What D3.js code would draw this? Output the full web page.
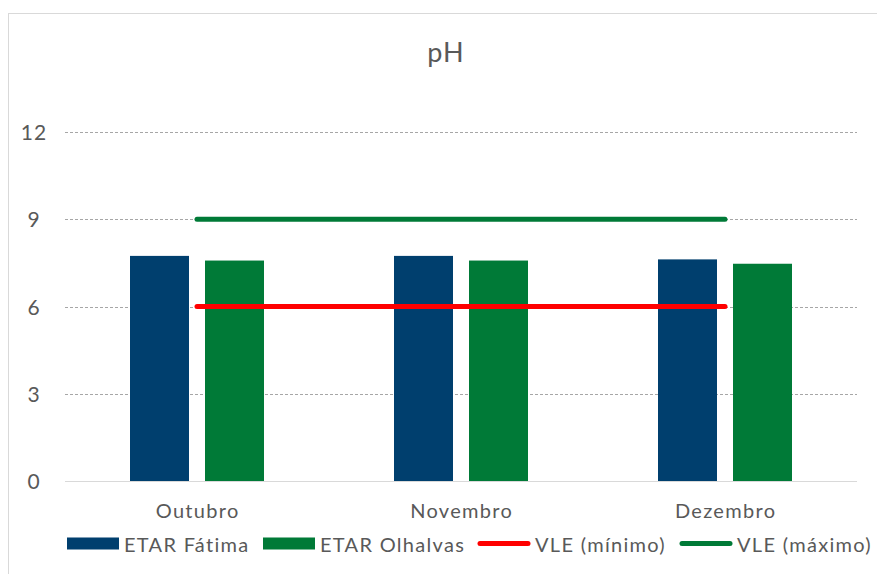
<!DOCTYPE html>
<html>
<head>
<meta charset="utf-8">
<script src="https://cdn.jsdelivr.net/npm/d3@7"></script>
<style>
  body { margin: 0; background: #fff; }
  svg { display: block; font-family: "Lato", "Open Sans", sans-serif; }
</style>
</head>
<body>
<div id="chart"></div>
<script>
// data
const months = ["Outubro", "Novembro", "Dezembro"];
const fatima = [7.74, 7.74, 7.62];
const olhalvas = [7.58, 7.58, 7.47];
const vleMin = [6, 6, 6];
const vleMax = [9, 9, 9];
const yTicks = [0, 3, 6, 9, 12];

const width = 877, height = 574;
const plot = { left: 65, right: 857, top: 132, bottom: 481 };
const fs = 20;
const ls = 1.3; // letter spacing to mimic the wider original face

const svg = d3.select("#chart").append("svg")
    .attr("width", width)
    .attr("height", height);

// chart border
svg.append("rect")
    .attr("x", 8.5).attr("y", 13.5)
    .attr("width", 900).attr("height", 600)
    .attr("fill", "#fff")
    .attr("stroke", "#d9d9d9");

const x = d3.scaleBand()
    .domain(months)
    .range([plot.left, plot.right]);

const y = d3.scaleLinear()
    .domain([0, 12])
    .range([plot.bottom, plot.top]);

// gridlines
svg.append("g")
    .selectAll("line")
    .data(yTicks.filter(d => d > 0))
    .join("line")
    .attr("x1", plot.left).attr("x2", plot.right)
    .attr("y1", d => Math.round(y(d)) + 0.5)
    .attr("y2", d => Math.round(y(d)) + 0.5)
    .attr("stroke", "#a6a6a6")
    .attr("stroke-dasharray", "3,2");

// y tick labels
svg.append("g")
    .selectAll("text")
    .data(yTicks)
    .join("text")
    .attr("x", 34)
    .attr("y", d => y(d) + 8)
    .attr("text-anchor", "middle")
    .attr("font-size", 21)
    .attr("letter-spacing", 1)
    .attr("fill", "#595959")
    .text(d => d);

// bars
const barW = 59, gap = 16;
const series = [
    { name: "ETAR Fátima", values: fatima, color: "#003f6e", off: -(barW + gap / 2) },
    { name: "ETAR Olhalvas", values: olhalvas, color: "#007a37", off: gap / 2 }
];

series.forEach(s => {
    svg.append("g")
        .selectAll("rect")
        .data(months)
        .join("rect")
        .attr("x", (m) => x(m) + x.bandwidth() / 2 + s.off)
        .attr("y", (m, i) => y(s.values[i]))
        .attr("width", barW)
        .attr("height", (m, i) => y(0) - y(s.values[i]))
        .attr("fill", s.color);
});

// x axis line
svg.append("line")
    .attr("x1", plot.left).attr("x2", plot.right)
    .attr("y1", plot.bottom + 0.5).attr("y2", plot.bottom + 0.5)
    .attr("stroke", "#d9d9d9");

// category labels
svg.append("g")
    .selectAll("text")
    .data(months)
    .join("text")
    .attr("x", m => x(m) + x.bandwidth() / 2 + ls / 2)
    .attr("y", 518)
    .attr("text-anchor", "middle")
    .attr("font-size", fs)
    .attr("letter-spacing", ls)
    .attr("fill", "#595959")
    .text(m => m);

// VLE lines
const line = d3.line()
    .x((d, i) => x(months[i]) + x.bandwidth() / 2)
    .y(d => y(d));

const lines = [
    { name: "VLE (mínimo)", values: vleMin, color: "#ff0000" },
    { name: "VLE (máximo)", values: vleMax, color: "#007a37" }
];

lines.forEach(l => {
    svg.append("path")
        .datum(l.values)
        .attr("d", line)
        .attr("fill", "none")
        .attr("stroke", l.color)
        .attr("stroke-width", 5)
        .attr("stroke-linecap", "round");
});

// title
svg.append("text")
    .attr("x", 446)
    .attr("y", 62)
    .attr("text-anchor", "middle")
    .attr("font-size", 27)
    .attr("letter-spacing", 1)
    .attr("fill", "#595959")
    .text("pH");

// legend
const legend = svg.append("g");
const legendItems = [
    { name: "ETAR Fátima", color: "#003f6e", type: "rect", x: 67 },
    { name: "ETAR Olhalvas", color: "#007a37", type: "rect", x: 263 },
    { name: "VLE (mínimo)", color: "#ff0000", type: "line", x: 478 },
    { name: "VLE (máximo)", color: "#007a37", type: "line", x: 680 }
];

legendItems.forEach(it => {
    if (it.type === "rect") {
        legend.append("rect")
            .attr("x", it.x).attr("y", 537.5)
            .attr("width", 52).attr("height", 12)
            .attr("fill", it.color);
    } else {
        legend.append("line")
            .attr("x1", it.x + 2).attr("x2", it.x + 50)
            .attr("y1", 543.5).attr("y2", 543.5)
            .attr("stroke", it.color)
            .attr("stroke-width", 5)
            .attr("stroke-linecap", "round");
    }
    legend.append("text")
        .attr("x", it.x + 57)
        .attr("y", 552)
        .attr("font-size", fs)
        .attr("letter-spacing", ls)
        .attr("fill", "#595959")
        .text(it.name);
});
</script>
</body>
</html>
